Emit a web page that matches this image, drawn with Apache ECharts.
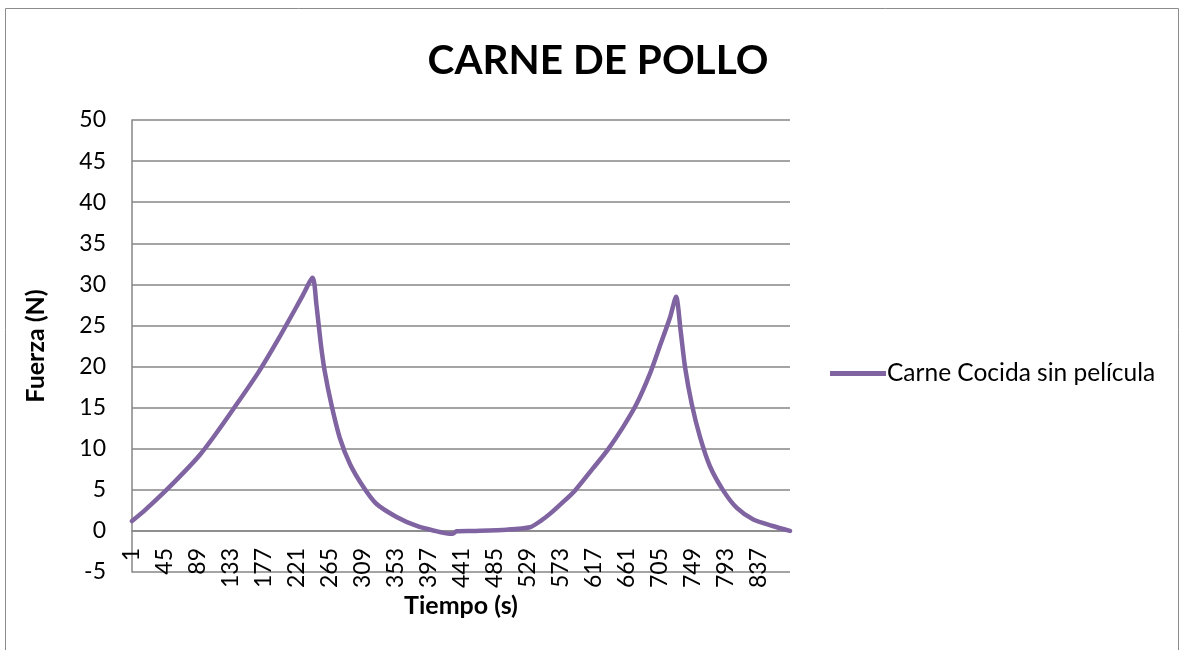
<!DOCTYPE html>
<html>
<head>
<meta charset="utf-8">
<script src="https://cdn.jsdelivr.net/npm/echarts@6/dist/echarts.min.js"></script>
<style>
html,body{margin:0;padding:0;background:#fff;}
#chart{width:1182px;height:650px;}
</style>
</head>
<body>
<div id="chart"></div>
<script>
// ---- data ----
const titleText = 'CARNE DE POLLO';
const seriesName = 'Carne Cocida sin película';
const xAxisName = 'Tiempo (s)';
const yAxisName = 'Fuerza (N)';
const categoryCount = 879;           // time samples 1..879
const yTicks = { min: -5, max: 50, step: 5 };
// sample positions (0-based category index)
const sampleIdx = [0, 17, 44, 71, 91, 111, 135, 168, 195, 227, 241,
  246, 252, 257, 266, 277, 291, 309, 326, 353, 380, 402, 424, 428, 433,
  455, 500, 531, 545, 558, 575, 591, 615, 635, 655, 673, 691, 704, 718, 726,
  732, 738, 747, 758, 771, 789, 807, 829, 855, 878];
// force values (N) at those positions
const forceVals = [1.2, 2.5, 4.8, 7.3, 9.3, 11.7, 14.8, 19.2, 23.3, 28.5, 30.8,
  27.6, 22.7, 19.5, 15.4, 11.4, 8.1, 5.3, 3.3, 1.7, 0.6, 0.05, -0.35, -0.35, -0.05,
  0.0, 0.15, 0.45, 1.2, 2.1, 3.5, 4.9, 7.6, 9.9, 12.6, 15.4, 19.1, 22.4, 26, 28.5,
  24.4, 19.9, 15.4, 11.4, 7.9, 4.9, 2.8, 1.4, 0.6, 0];

const categories = [];
for (let i = 1; i <= categoryCount; i++) categories.push(String(i));
const lineData = sampleIdx.map((ix, k) => [ix, forceVals[k]]);

const FONT = 'Lato, "Open Sans", sans-serif';
const chart = echarts.init(document.getElementById('chart'), null, {renderer: 'canvas'});
chart.setOption({
  animation: false,
  backgroundColor: '#fff',
  graphic: [{
    type: 'rect', silent: true, z: -10,
    shape: { x: 5.5, y: 8.5, width: 1173, height: 700 },
    style: { fill: 'none', stroke: '#8c8c8c', lineWidth: 1 }
  }],
  title: {
    text: titleText, left: 593, top: 35, textAlign: 'center',
    textStyle: { fontFamily: FONT, fontWeight: 'bold', fontSize: 40.5, color: '#000' }
  },
  legend: {
    left: 825, top: 356,
    icon: 'rect', itemWidth: 56, itemHeight: 5, itemGap: 4,
    textStyle: { fontFamily: FONT, fontSize: 24.5, color: '#000', padding: [0, 0, 0, -4] },
    data: [seriesName]
  },
  grid: { left: 132, right: 392, top: 120, bottom: 78, containLabel: false, outerBoundsMode: 'none' },
  xAxis: {
    type: 'category', data: categories, boundaryGap: false,
    offset: -41,
    name: xAxisName, nameLocation: 'middle', nameGap: 62, nameMoveOverlap: false,
    nameTextStyle: { fontFamily: FONT, fontWeight: 'bold', fontSize: 25, color: '#000' },
    axisLine: { onZero: false, lineStyle: { color: '#868686', width: 1.5 } },
    axisTick: { show: false },
    axisLabel: { interval: 43, rotate: 90, margin: 17, fontFamily: FONT, fontSize: 23, color: '#000' },
    splitLine: { show: false }
  },
  yAxis: {
    type: 'value', min: yTicks.min, max: yTicks.max, interval: yTicks.step,
    name: yAxisName, nameLocation: 'middle', nameGap: 84, nameRotate: 90, nameMoveOverlap: false,
    nameTextStyle: { fontFamily: FONT, fontWeight: 'bold', fontSize: 25, color: '#000' },
    axisLine: { show: true, lineStyle: { color: '#868686', width: 1.5 } },
    axisTick: { show: false },
    axisLabel: { margin: 26, fontFamily: FONT, fontSize: 23, color: '#000' },
    splitLine: { show: true, lineStyle: { color: '#868686', width: 1.5 } }
  },
  series: [{
    name: seriesName, type: 'line', data: lineData,
    showSymbol: false, symbol: 'none', smooth: 0.25,
    lineStyle: { color: '#8064A2', width: 4.5, cap: 'round', join: 'round' },
    itemStyle: { color: '#8064A2' }
  }]
});
</script>
</body>
</html>
